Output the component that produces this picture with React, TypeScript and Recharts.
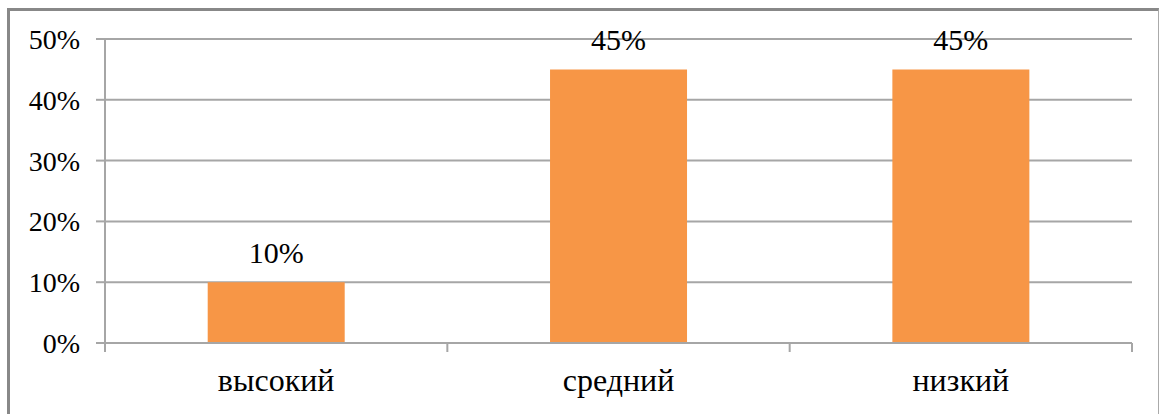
import { BarChart, Bar, XAxis, YAxis, CartesianGrid, LabelList } from 'recharts';

const categories = ['высокий', 'средний', 'низкий'];
const values = [10, 45, 45];
const yTicks = [0, 10, 20, 30, 40, 50];

const data = categories.map((name, i) => ({ name, value: values[i] }));

const FONT = 'Liberation Serif';
const GRID = '#a6a6a6';

function CategoryTick(props: any) {
  const { x, y, payload, width, visibleTicksCount, index } = props;
  const band = width / visibleTicksCount;
  const left = x - band / 2;
  const right = x + band / 2;
  return (
    <g>
      <line x1={left} y1={y} x2={left} y2={y + 9} stroke={GRID} strokeWidth={2} />
      {index === visibleTicksCount - 1 && (
        <line x1={right} y1={y} x2={right} y2={y + 9} stroke={GRID} strokeWidth={2} />
      )}
      <text x={x} y={y + 48} textAnchor="middle" fill="#000" fontSize={32} fontFamily={FONT}>
        {payload.value}
      </text>
    </g>
  );
}

export default function App() {
  return (
    <div style={{ position: 'absolute', left: 0, top: 0, width: 1160, height: 414, background: '#fff', overflow: 'hidden' }}>
      <div
        style={{
          position: 'absolute',
          left: 7,
          top: 8,
          width: 1148,
          height: 420,
          borderLeft: '3px solid #888',
          borderTop: '3px solid #888',
          borderRight: '1px solid #aaa',
        }}
      />
      <div style={{ position: 'absolute', left: 0, top: 0 }}>
        <BarChart width={1160} height={414} data={data} margin={{ top: 39, right: 28, bottom: 0, left: 0 }} barCategoryGap="30%">
          <CartesianGrid horizontal vertical={false} stroke={GRID} strokeWidth={2} />
          <XAxis
            dataKey="name"
            height={71}
            axisLine={{ stroke: GRID, strokeWidth: 2 }}
            tickLine={false}
            tickSize={0}
            tickMargin={0}
            tick={<CategoryTick />}
            interval={0}
          />
          <YAxis
            width={105}
            domain={[0, 50]}
            ticks={yTicks}
            tickFormatter={(v) => `${v}%`}
            axisLine={{ stroke: GRID, strokeWidth: 2 }}
            tickLine={{ stroke: GRID, strokeWidth: 2 }}
            tickSize={9}
            tickMargin={16}
            tick={{ fill: '#000', fontSize: 28, fontFamily: FONT }}
          />
          <Bar dataKey="value" fill="#F79646" isAnimationActive={false}>
            <LabelList
              dataKey="value"
              position="top"
              offset={19}
              formatter={(v: any) => `${v}%`}
              fill="#000"
              fontSize={30}
              fontFamily={FONT}
            />
          </Bar>
        </BarChart>
      </div>
    </div>
  );
}
